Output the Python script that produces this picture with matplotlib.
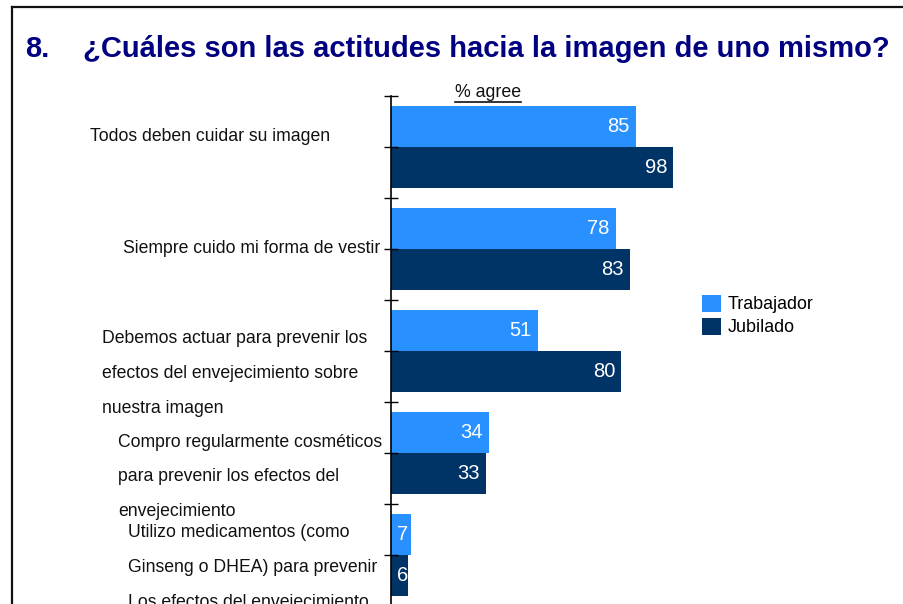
#!/usr/bin/env python3

import matplotlib
matplotlib.use('Agg')
import matplotlib.pyplot as plt
from matplotlib.lines import Line2D
from matplotlib.transforms import blended_transform_factory, offset_copy

CATEGORIES = [
    'Todos deben cuidar su imagen',
    'Siempre cuido mi forma de vestir',
    'Debemos actuar para prevenir los\nefectos del envejecimiento sobre\nnuestra imagen',
    'Compro regularmente cosméticos\npara prevenir los efectos del\nenvejecimiento',
    'Utilizo medicamentos (como\nGinseng o DHEA) para prevenir\nLos efectos del envejecimiento',
]
SERIES = ['Trabajador', 'Jubilado']
TRABAJADOR = [85, 78, 51, 34, 7]
JUBILADO = [98, 83, 80, 33, 6]

TITLE_NUM = '8.'
TITLE = '¿Cuáles son las actitudes hacia la imagen de uno mismo?'
AXIS_NOTE = '% agree'

LIGHT = '#2990FF'
DARK = '#003366'
NAVY = '#000080'

W, H = 904, 604
plt.rcParams['font.family'] = ['Liberation Sans', 'DejaVu Sans']

fig = plt.figure(figsize=(W / 100, H / 100), dpi=100)
fig.patch.set_facecolor('white')

# axes placed in pixels: axis line at x=391, top at y=96, 102 px per category
ax_left, ax_top, px_per_cat, px_width = 391, 96, 102, 288
ax = fig.add_axes([ax_left / W, 1 - (ax_top + 5 * px_per_cat) / H,
                   px_width / W, 5 * px_per_cat / H])
ax.set_xlim(0, 100)
ax.set_ylim(4.5, -0.5)

n = len(CATEGORIES)
pos = list(range(n))
bh = 0.4
ax.barh([p - bh / 2 for p in pos], TRABAJADOR, height=bh, color=LIGHT, label=SERIES[0])
ax.barh([p + bh / 2 for p in pos], JUBILADO, height=bh, color=DARK, label=SERIES[1])

# value labels inside bar ends
for vals, off in [(TRABAJADOR, -bh / 2), (JUBILADO, bh / 2)]:
    for p, v in zip(pos, vals):
        if v < 12:
            tr = offset_copy(ax.transData, fig=fig, x=6, y=0, units='dots')
            ax.text(0, p + off, str(v), transform=tr, ha='left', va='center',
                    color='white', fontsize=14.5)
        else:
            tr = offset_copy(ax.transData, fig=fig, x=-6, y=0, units='dots')
            ax.text(v, p + off, str(v), transform=tr, ha='right', va='center',
                    color='white', fontsize=14.5)

for s in ['top', 'right', 'bottom']:
    ax.spines[s].set_visible(False)
ax.spines['left'].set_linewidth(1.2)
ax.set_xticks([])
ax.set_yticks([p - 0.5 for p in pos] + pos + [4.5])
ax.set_yticklabels([])
ax.tick_params(axis='y', direction='inout', length=10, width=1.0)

# category labels (left aligned at varying x, like the original text boxes)
label_x = [90, 123, 102, 118, 128]
label_dy = [-0.105, 0.0, 0.22, 0.235, 0.12]
btr = blended_transform_factory(fig.transFigure, ax.transData)
for lab, lx, dy, p in zip(CATEGORIES, label_x, label_dy, pos):
    ax.text(lx / W, p + dy, lab, transform=btr, ha='left', va='center',
            fontsize=12.7, linespacing=2.38, color='#111111', clip_on=False)

# "% agree" with underline
note = ax.text(33.7, -0.5, AXIS_NOTE, ha='center', va='baseline', fontsize=12.8,
               color='#111111',
               transform=offset_copy(ax.transData, fig=fig, x=0, y=-1, units='dots'))
fig.canvas.draw()
bb = note.get_window_extent()
uy = (bb.y0 - 1) / H
fig.add_artist(Line2D([bb.x0 / W, bb.x1 / W], [uy, uy],
                      color='#111111', lw=1.2, transform=fig.transFigure))

# title
fig.text(25 / W, 1 - 57 / H, TITLE_NUM, ha='left', va='baseline', fontsize=21,
         fontweight='bold', color=NAVY)
fig.text(83 / W, 1 - 57 / H, TITLE, ha='left', va='baseline', fontsize=21,
         fontweight='bold', color=NAVY)

# legend
ax.legend(loc='upper left', bbox_to_anchor=(702 / W, 1 - 295 / H),
          bbox_transform=fig.transFigure, frameon=False, fontsize=12.9,
          handlelength=1.05, handleheight=1.05, handletextpad=0.4,
          labelspacing=0.25, borderpad=0, borderaxespad=0)

# frame of the slide
fig.add_artist(Line2D([12 / W, 12 / W], [0, 1 - 7 / H], color='#111111', lw=1.6,
                      transform=fig.transFigure))
fig.add_artist(Line2D([12 / W, 1], [1 - 7 / H, 1 - 7 / H], color='#111111', lw=1.6,
                      transform=fig.transFigure))

fig.savefig('out.png', dpi=100)
